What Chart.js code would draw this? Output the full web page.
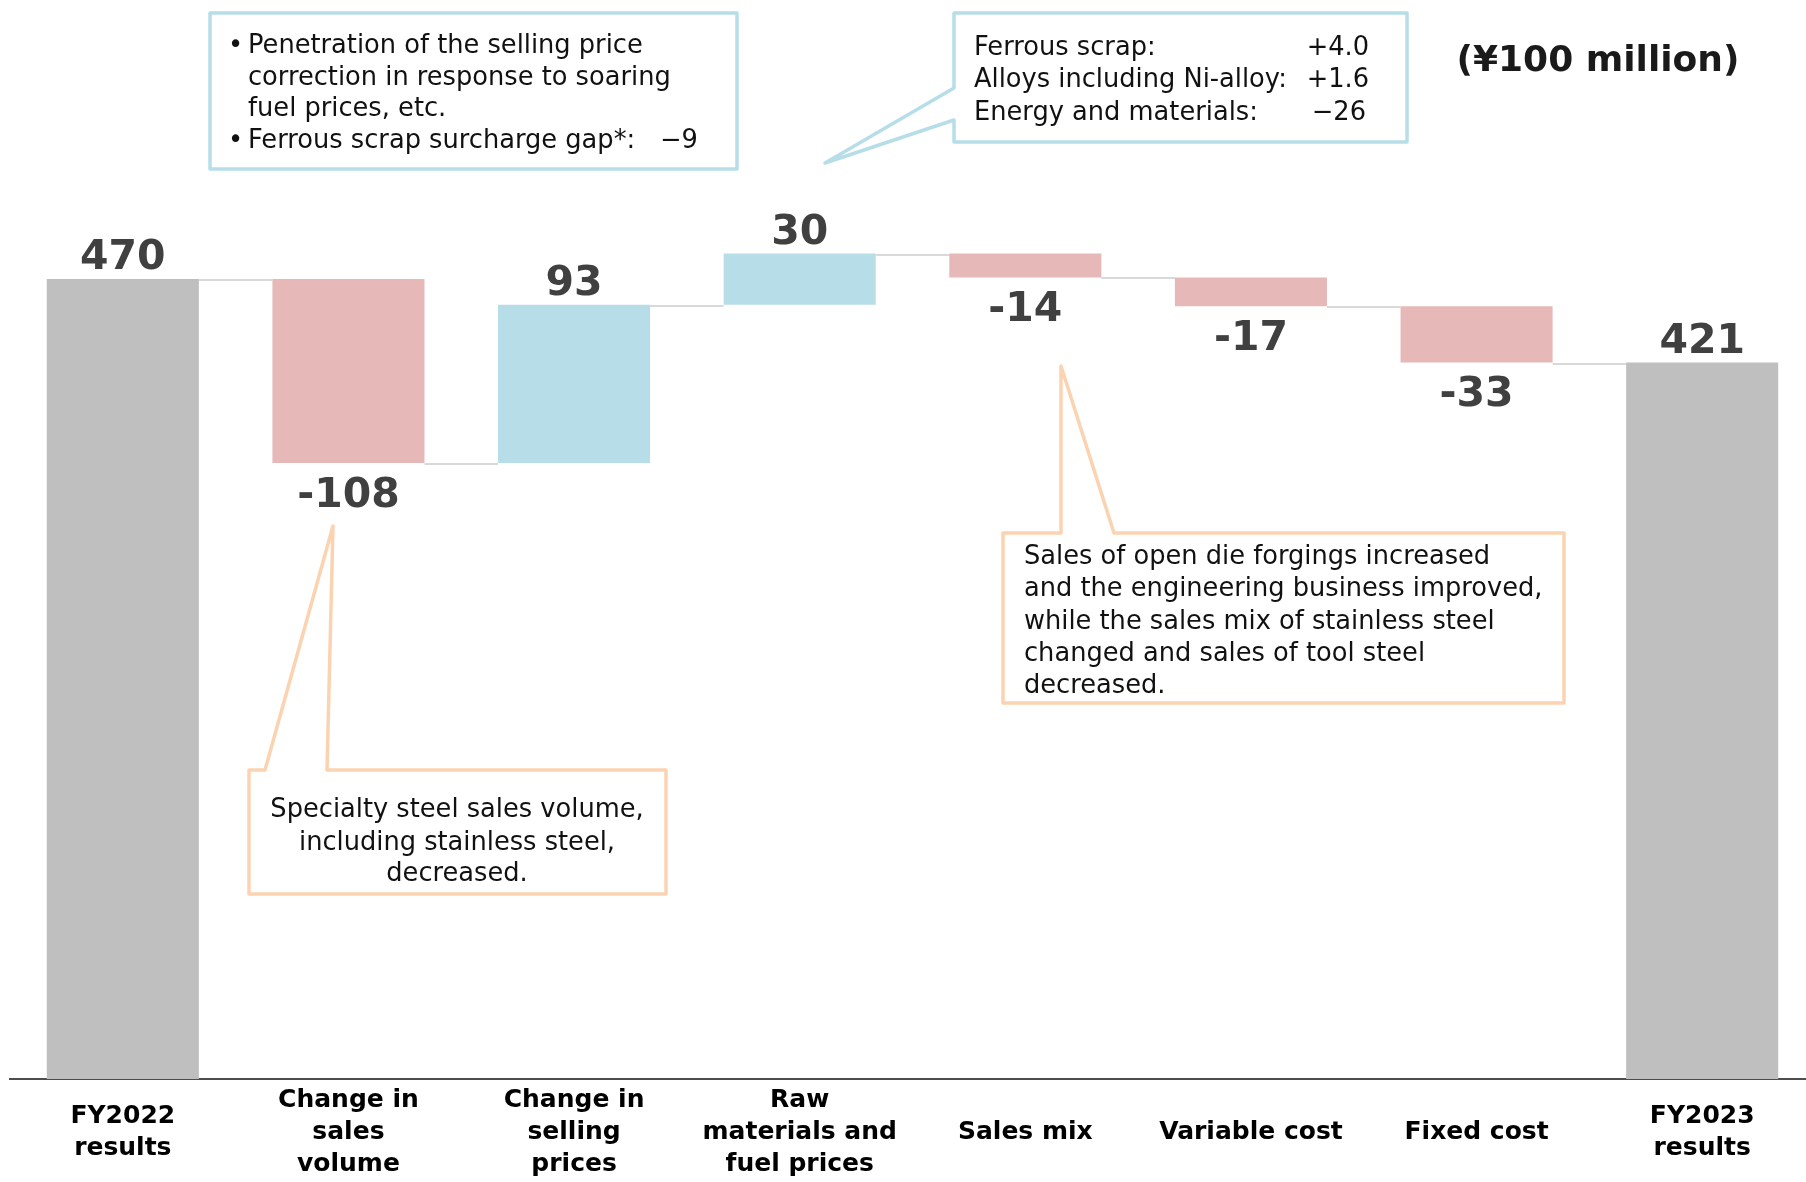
<!DOCTYPE html>
<html>
<head>
<meta charset="utf-8">
<script src="https://cdn.jsdelivr.net/npm/chart.js@4.4.0/dist/chart.umd.min.js"></script>
<style>
  html, body { margin: 0; padding: 0; background: #fff; overflow: hidden; }
  #wrap { width: 1830px; height: 1182px; overflow: hidden; }
</style>
</head>
<body>
<div id="wrap"><canvas id="chart" width="1830" height="1182"></canvas></div>
<script>
const categories = [
  ["FY2022", "results"],
  ["Change in", "sales", "volume"],
  ["Change in", "selling", "prices"],
  ["Raw", "materials and", "fuel prices"],
  "Sales mix",
  "Variable cost",
  "Fixed cost",
  ["FY2023", "results"],
];
const deltas = [470, -108, 93, 30, -14, -17, -33, 421];
const isTotal = [true, false, false, false, false, false, false, true];
const valueLabels = ["470", "-108", "93", "30", "-14", "-17", "-33", "421"];

const FONT = "'DejaVu Sans', Verdana, sans-serif";

// floating ranges + running level after each bar
const ranges = [];
const levels = [];
let running = 0;
deltas.forEach((d, i) => {
  if (isTotal[i]) {
    ranges.push([0, d]);
    running = d;
  } else {
    ranges.push([running, running + d]);
    running += d;
  }
  levels.push(running);
});

const colors = deltas.map((d, i) =>
  isTotal[i] ? "#BFBFBF" : d >= 0 ? "#B7DEE8" : "#E6B9B8"
);

const connectorPlugin = {
  id: "connectors",
  beforeDatasetsDraw(chart) {
    const ctx = chart.ctx;
    const meta = chart.getDatasetMeta(0);
    const y = chart.scales.y;
    ctx.save();
    ctx.strokeStyle = "#D9D9D9";
    ctx.lineWidth = 2;
    for (let i = 0; i < meta.data.length - 1; i++) {
      const a = meta.data[i];
      const b = meta.data[i + 1];
      const py = Math.round(y.getPixelForValue(levels[i])) + 1;
      ctx.beginPath();
      ctx.moveTo(a.x + a.width / 2, py);
      ctx.lineTo(b.x - b.width / 2, py);
      ctx.stroke();
    }
    ctx.restore();
  },
};

const labelPlugin = {
  id: "valueLabels",
  afterDatasetsDraw(chart) {
    const ctx = chart.ctx;
    const meta = chart.getDatasetMeta(0);
    ctx.save();
    ctx.font = "bold 41px " + FONT;
    ctx.fillStyle = "#404040";
    ctx.textAlign = "center";
    ctx.textBaseline = "middle";
    meta.data.forEach((el, i) => {
      const top = Math.min(el.y, el.base);
      const bottom = Math.max(el.y, el.base);
      if (isTotal[i] || deltas[i] >= 0) {
        ctx.fillText(valueLabels[i], el.x, top - 20.5);
      } else {
        ctx.fillText(valueLabels[i], el.x, bottom + 33);
      }
    });
    ctx.restore();
  },
};

const calloutPlugin = {
  id: "callouts",
  afterDraw(chart) {
    const ctx = chart.ctx;
    ctx.save();
    ctx.lineJoin = "round";
    ctx.lineWidth = 3.5;

    const poly = (pts, color) => {
      ctx.beginPath();
      ctx.moveTo(pts[0][0], pts[0][1]);
      for (let i = 1; i < pts.length; i++) ctx.lineTo(pts[i][0], pts[i][1]);
      ctx.closePath();
      ctx.fillStyle = "#fff";
      ctx.fill();
      ctx.strokeStyle = color;
      ctx.stroke();
    };

    // selling prices note
    poly([[210, 13], [737, 13], [737, 169], [210, 169]], "#B7DEE8");
    // raw materials note
    poly([[954, 13], [1407, 13], [1407, 142], [954, 142], [954, 120], [825, 163], [954, 88]], "#B7DEE8");
    // sales volume note
    poly([[249, 770], [265, 770], [333, 526], [327, 770], [666, 770], [666, 894], [249, 894]], "#FCD3B1");
    // sales mix note
    poly([[1003, 533], [1061, 533], [1061, 366], [1114, 533], [1564, 533], [1564, 703], [1003, 703]], "#FCD3B1");

    ctx.fillStyle = "#111";
    ctx.font = "25.7px " + FONT;
    ctx.textBaseline = "middle";
    ctx.textAlign = "left";

    ctx.fillText("•", 228, 46.5);
    ctx.fillText("Penetration of the selling price", 248, 46.5);
    ctx.fillText("correction in response to soaring", 248, 78.5);
    ctx.fillText("fuel prices, etc.", 248, 109.5);
    ctx.fillText("•", 228, 141.5);
    ctx.fillText("Ferrous scrap surcharge gap*:", 248, 141.5);
    ctx.fillText("\u22129", 660, 141.5);

    ctx.fillText("Ferrous scrap:", 974, 48.5);
    ctx.fillText("Alloys including Ni-alloy:", 974, 80.5);
    ctx.fillText("Energy and materials:", 974, 113.5);
    ctx.textAlign = "right";
    ctx.fillText("+4.0", 1369, 48.5);
    ctx.fillText("+1.6", 1369, 80.5);
    ctx.fillText("\u221226", 1366, 113.5);

    ctx.textAlign = "center";
    ctx.fillText("Specialty steel sales volume,", 457, 810.5);
    ctx.fillText("including stainless steel,", 457, 843.5);
    ctx.fillText("decreased.", 457, 874.5);

    ctx.textAlign = "left";
    [
      "Sales of open die forgings increased",
      "and the engineering business improved,",
      "while the sales mix of stainless steel",
      "changed and sales of tool steel",
      "decreased.",
    ].forEach((t, i) => ctx.fillText(t, 1024, 557.5 + i * 32.2));

    ctx.textAlign = "center";
    ctx.font = "bold 36px " + FONT;
    ctx.fillStyle = "#1a1a1a";
    ctx.fillText("(\u00a5100 million)", 1598, 62);
    ctx.restore();
  },
};

new Chart(document.getElementById("chart"), {
  type: "bar",
  data: {
    labels: categories,
    datasets: [
      {
        data: ranges,
        backgroundColor: colors,
        borderWidth: 0,
        categoryPercentage: 1,
        barPercentage: 0.674,
      },
    ],
  },
  options: {
    responsive: false,
    devicePixelRatio: 1,
    animation: false,
    layout: { padding: { left: 10, right: 15, top: 0, bottom: 0 } },
    plugins: { legend: { display: false }, tooltip: { enabled: false } },
    scales: {
      x: {
        grid: { display: false, drawTicks: false },
        border: { display: true, color: "#4d4d4d", width: 2 },
        ticks: {
          color: "#000",
          font: { family: FONT, size: 25, weight: "bold", lineHeight: 1.28 },
          padding: 21,
          maxRotation: 0,
          autoSkip: false,
          crossAlign: "center",
        },
        afterFit(scale) {
          scale.height = 103;
        },
      },
      y: { display: false, min: 0, max: 634 },
    },
  },
  plugins: [connectorPlugin, labelPlugin, calloutPlugin],
});
</script>
</body>
</html>
